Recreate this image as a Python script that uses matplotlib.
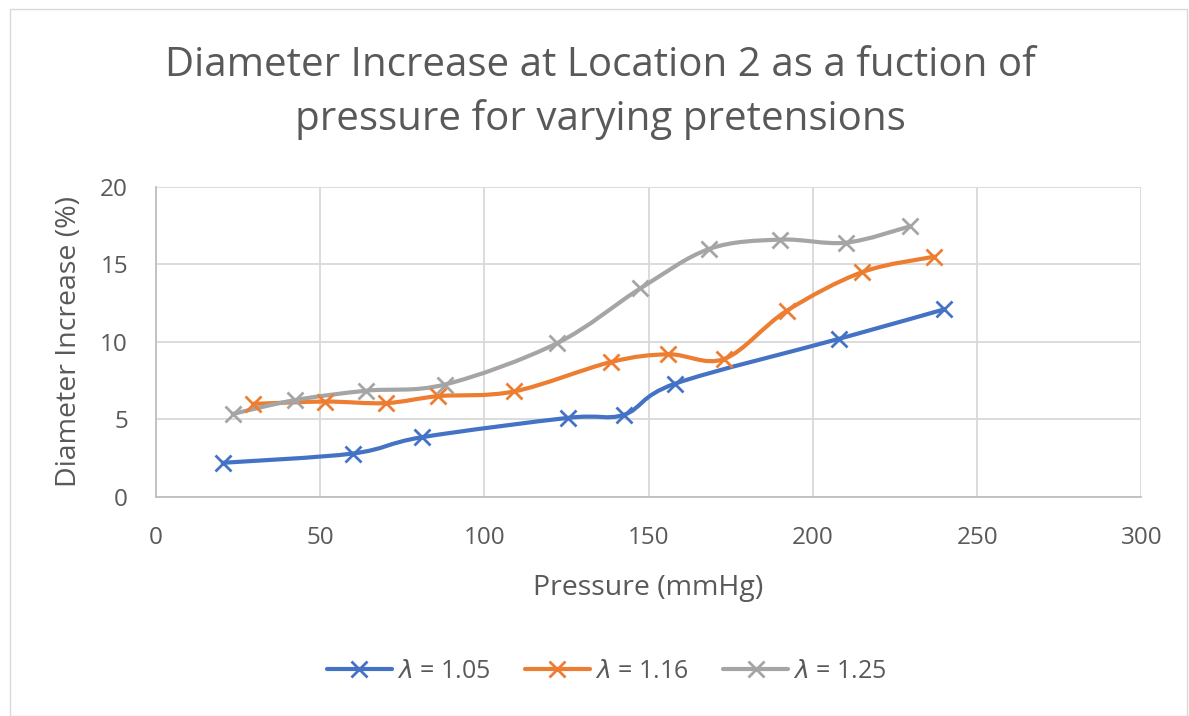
import matplotlib.pyplot as plt
import numpy as np
from matplotlib.path import Path
from matplotlib.patches import PathPatch, Rectangle

# data
p_105 = [20.4, 60, 81, 125.5, 142.5, 158, 208, 240]
d_105 = [2.2, 2.8, 3.85, 5.1, 5.3, 7.3, 10.2, 12.1]

p_116 = [29.6, 51.5, 70, 86, 109, 138.5, 156, 173, 192, 215, 237]
d_116 = [6.0, 6.15, 6.05, 6.5, 6.8, 8.7, 9.2, 8.9, 12.0, 14.5, 15.5]

p_125 = [23.4, 42.5, 64, 88, 122, 147.5, 168.5, 190, 210, 229.5]
d_125 = [5.35, 6.25, 6.85, 7.25, 9.9, 13.45, 16.0, 16.6, 16.4, 17.45]

labels = [r"$\lambda$ = 1.05", r"$\lambda$ = 1.16", r"$\lambda$ = 1.25"]
colors = ["#4472C4", "#ED7D31", "#A5A5A5"]

x_ticks = [0, 50, 100, 150, 200, 250, 300]
y_ticks = [0, 5, 10, 15, 20]

txt = "#595959"
plt.rcParams['font.family'] = ['Open Sans', 'DejaVu Sans']
plt.rcParams['mathtext.fontset'] = 'dejavusans'


def smooth_path(x, y):
    # Excel-style smoothed line: cubic bezier segments through the points
    pts = np.column_stack([x, y]).astype(float)
    n = len(pts)
    verts = [pts[0]]
    codes = [Path.MOVETO]
    for i in range(n - 1):
        p0 = pts[i - 1] if i > 0 else pts[i]
        p1 = pts[i]
        p2 = pts[i + 1]
        p3 = pts[i + 2] if i + 2 < n else pts[i + 1]
        verts += [p1 + (p2 - p0) / 6, p2 - (p3 - p1) / 6, p2]
        codes += [Path.CURVE4] * 3
    return Path(verts, codes)


fig = plt.figure(figsize=(11.89, 7.16), dpi=100)
fig.patches.append(Rectangle((0.008, 0.0), 0.99, 0.988, transform=fig.transFigure,
                             fill=False, edgecolor="#D9D9D9", lw=1))
ax = fig.add_axes([0.131, 0.306, 0.829, 0.433])

series = [(p_105, d_105), (p_116, d_116), (p_125, d_125)]
handles = []
for (x, y), c, lab in zip(series, colors, labels):
    ax.add_patch(PathPatch(smooth_path(x, y), fill=False, edgecolor=c, lw=3,
                           capstyle='round', joinstyle='round', zorder=3))
    ax.plot(x, y, ls='none', marker='x', ms=12, mew=2, color=c, zorder=4)
    h, = ax.plot([], [], color=c, lw=3, marker='x', ms=12, mew=2,
                 solid_capstyle='round', label=lab)
    handles.append(h)

ax.set_xlim(0, 300)
ax.set_ylim(0, 20)
ax.set_xticks(x_ticks)
ax.set_yticks(y_ticks)
ax.grid(True, color="#D9D9D9", lw=1.3)
ax.set_axisbelow(True)
for s in ['top', 'right']:
    ax.spines[s].set_visible(False)
for s in ['left', 'bottom']:
    ax.spines[s].set_color("#BFBFBF")
    ax.spines[s].set_linewidth(1.3)
ax.tick_params(length=0, labelsize=17.5, labelcolor=txt)
ax.tick_params(axis='y', pad=20)
ax.tick_params(axis='x', pad=21)

ax.set_xlabel("Pressure (mmHg)", fontsize=20.5, color=txt, labelpad=17)
ax.set_ylabel("Diameter Increase (%)", fontsize=20.5, color=txt, labelpad=12)

fig.text(0.505, 0.87, "Diameter Increase at Location 2 as a fuction of\npressure for varying pretensions",
         ha='center', va='center', fontsize=29, color=txt, linespacing=1.42)

fig.legend(handles=handles, loc='center', bbox_to_anchor=(0.51, 0.062), ncol=3,
           frameon=False, fontsize=18, labelcolor=txt, handlelength=2.6,
           columnspacing=1.4, handletextpad=0.2)

fig.savefig("out.png", dpi=100)
